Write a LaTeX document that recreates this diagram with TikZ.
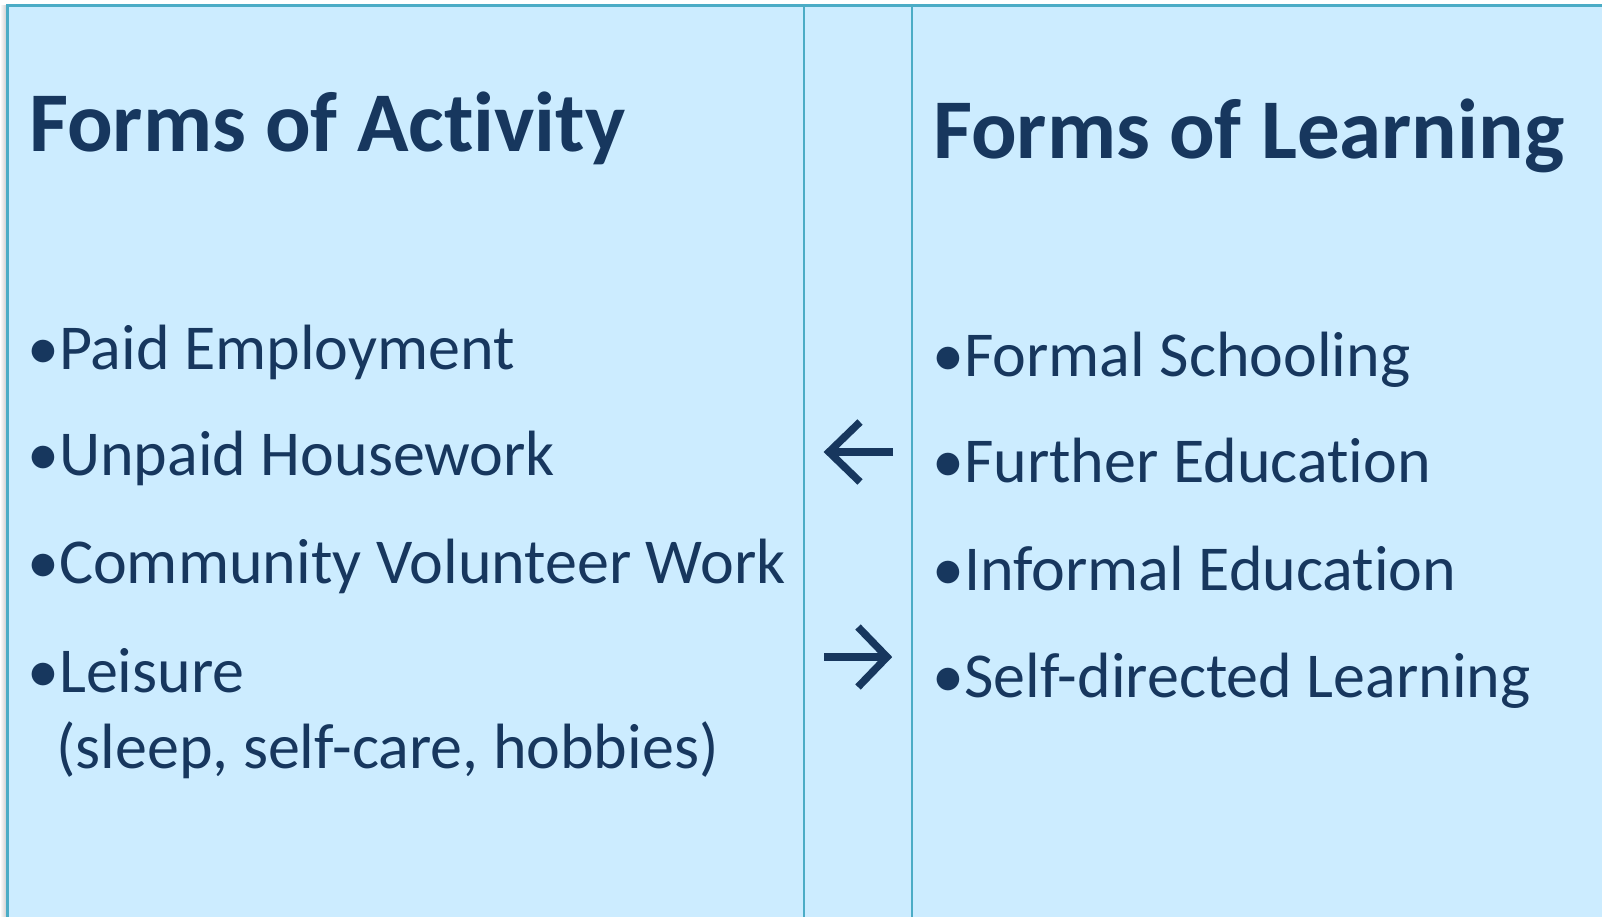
\documentclass[tikz,border=0pt]{standalone}
\usepackage{fontspec}
\setmainfont{Carlito}[Ligatures=NoCommon]
\usetikzlibrary{positioning}
\definecolor{panelfill}{HTML}{CCECFF}
\definecolor{panelline}{HTML}{4BACC6}
\definecolor{navy}{HTML}{17375E}
\tikzstyle{title} = [anchor=base west, inner sep=0pt, text=navy,
font=\fontsize{85}{100}\selectfont\bfseries]
\tikzstyle{item} = [anchor=base west, inner sep=0pt, text=navy,
font=\fontsize{64}{77}\selectfont]
\newcommand{\bul}{\makebox[30pt][l]{\kern-2pt•}}

\begin{document}
\begin{tikzpicture}[x=1pt,y=-1pt,
        divider/.style={draw=panelline, line width=2pt},
        glyph/.style={draw=navy, line width=7.5pt}]
        \useasboundingbox (0,0) rectangle (1602,917);
        \clip (0,0) rectangle (1602,917);
        %% Panels
        \fill [left color=white, right color=black!18] (0,6) rectangle (6,917);
        \filldraw [fill=panelfill, draw=panelline, line width=3pt] (7,6) rectangle (1630,940);
        \draw [divider] (804,6) -- (804,917);
        \draw [divider] (912,6) -- (912,917);
        %% Titles
        \node [title] at (29,152) (activity) {Forms of Activity};
        \node [title] at (933,159) (learning) {Forms of Learning};
        %% Activities
        \node [item] at (29,369) (paid) {\bul Paid Employment};
        \node [item] at (29,475) (unpaid) {\bul Unpaid Housework};
        \node [item] at (29,583) (volunteer) {\bul Community Volunteer Work};
        \node [item] at (29,692) (leisure) {\bul Leisure};
        \node [item] at (56,768) (leisurenote) {(sleep, self-care, hobbies)};
        %% Learning
        \node [item] at (934,376) (formal) {\bul Formal Schooling};
        \node [item] at (934,482) (further) {\bul Further Education};
        \node [item] at (934,590) (informal) {\bul Informal Education};
        \node [item] at (934,697) (selfdir) {\bul Self-directed Learning};
        %% Arrows
        \coordinate (lefttip) at (829,452);
        \coordinate (righttip) at (887,657);
        \draw [glyph] (893,452) -- (lefttip);
        \draw [glyph] (860,422) -- (lefttip) -- (860,482);
        \draw [glyph] (824,657) -- (righttip);
        \draw [glyph] (858,627) -- (righttip) -- (858,687);
    \end{tikzpicture}
\end{document}
